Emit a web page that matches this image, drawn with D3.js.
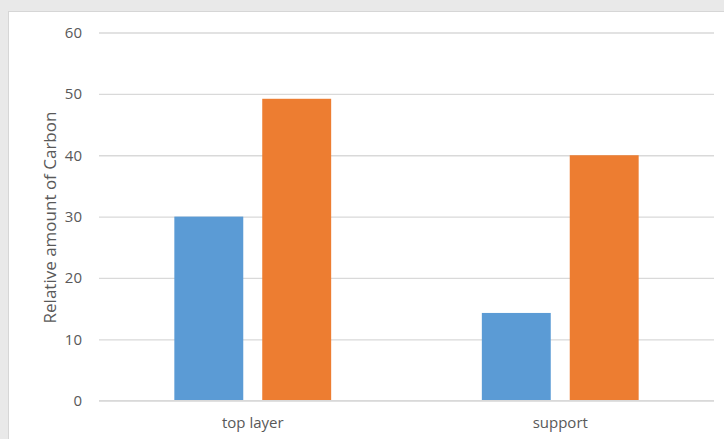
<!DOCTYPE html>
<html>
<head>
<meta charset="utf-8">
<script src="https://cdn.jsdelivr.net/npm/d3@7"></script>
<style>
html, body { margin: 0; padding: 0; background: #e9e9e9; }
svg { display: block; }
</style>
</head>
<body>
<svg id="chart" width="724" height="439"></svg>
<script>
const categories = ["top layer", "support"];
const seriesNames = ["Series1", "Series2"];
const series1 = [30, 14.3];
const series2 = [49.2, 40];
const yTicks = [0, 10, 20, 30, 40, 50, 60];
const yTitle = "Relative amount of Carbon";
const colors = ["#5B9BD5", "#ED7D31"];

const svg = d3.select("#chart");
const W = 724, H = 439;
svg.append("rect").attr("x", 0).attr("y", 0).attr("width", W).attr("height", H).attr("fill", "#e9e9e9");
svg.append("rect").attr("x", 8.5).attr("y", 11.5).attr("width", W).attr("height", H)
  .attr("fill", "#ffffff").attr("stroke", "#d6d6d6").attr("stroke-width", 1);

const plot = { left: 99, right: 714, top: 32.5, bottom: 400.7 };
const y = d3.scaleLinear().domain([0, 60]).range([plot.bottom, plot.top]);
const x0 = d3.scaleBand().domain(categories).range([plot.left, plot.right]).padding(0);
const groupW = x0.bandwidth() * 0.51;
const x1 = d3.scaleBand().domain(seriesNames)
  .range([(x0.bandwidth() - groupW) / 2, (x0.bandwidth() + groupW) / 2])
  .paddingInner(0.216).paddingOuter(0);

const font = "'Open Sans', 'Segoe UI', sans-serif";
const textColor = "#595959";

// gridlines
const yAxis = d3.axisLeft(y).tickValues(yTicks).tickSize(-(plot.right - plot.left)).tickPadding(17);
const gy = svg.append("g").attr("transform", `translate(${plot.left},0)`).call(yAxis);
gy.select(".domain").remove();
gy.selectAll(".tick line").attr("stroke", "#d9d9d9").attr("stroke-width", 1.3);
gy.selectAll(".tick text").attr("fill", textColor).style("font-family", font).style("font-size", "15px");

// bars
const data = categories.map((c, i) => ({ cat: c, vals: [series1[i], series2[i]] }));
const groups = svg.append("g").selectAll("g").data(data).join("g")
  .attr("transform", d => `translate(${x0(d.cat)},0)`);
groups.selectAll("rect").data(d => d.vals.map((v, j) => ({ v, s: seriesNames[j], j })))
  .join("rect")
  .attr("x", d => x1(d.s))
  .attr("width", x1.bandwidth())
  .attr("y", d => y(d.v))
  .attr("height", d => y(0) - y(d.v))
  .attr("fill", d => colors[d.j]);

// baseline
svg.append("line").attr("x1", plot.left).attr("x2", plot.right)
  .attr("y1", y(0)).attr("y2", y(0)).attr("stroke", "#d9d9d9").attr("stroke-width", 1.3);

// x axis labels
const xAxis = d3.axisBottom(x0).tickSize(0).tickPadding(17);
const gx = svg.append("g").attr("transform", `translate(0,${plot.bottom})`).call(xAxis);
gx.select(".domain").remove();
gx.selectAll(".tick text").attr("fill", textColor).style("font-family", font).style("font-size", "15px");

// y title: fit to span y 108..327
const titleTop = 108, titleBottom = 327;
const title = svg.append("text")
  .attr("transform", `translate(56,${(titleTop + titleBottom) / 2}) rotate(-90)`)
  .attr("text-anchor", "middle")
  .attr("fill", textColor)
  .style("font-family", font).style("font-size", "15px")
  .text(yTitle);
const len = title.node().getComputedTextLength();
if (len > 0) {
  const fs = 15 * (titleBottom - titleTop) / len;
  title.style("font-size", Math.min(17, Math.max(13, fs)) + "px");
}
</script>
</body>
</html>
